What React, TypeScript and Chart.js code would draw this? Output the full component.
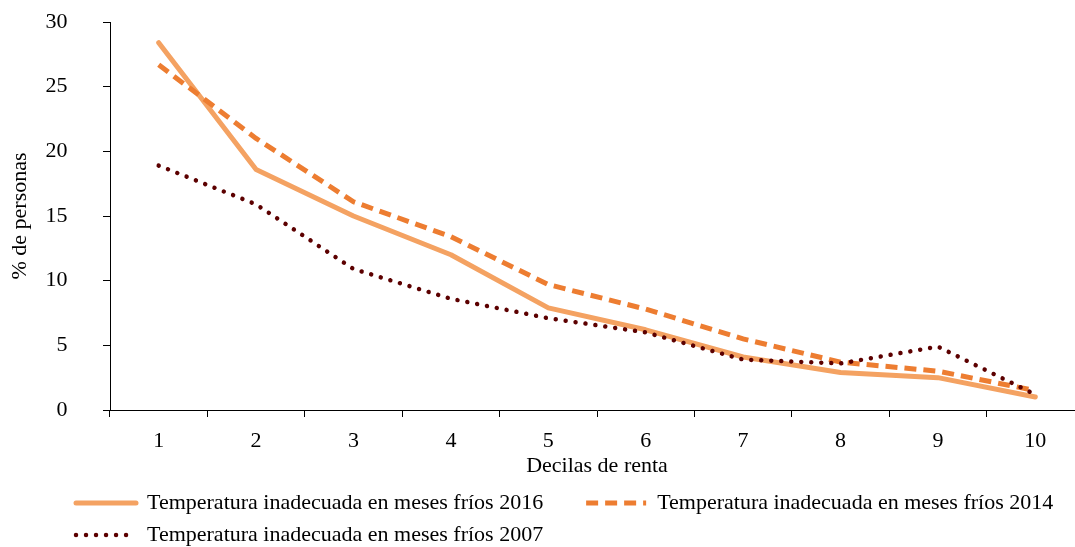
import React, { useEffect, useRef } from "react";
import { Chart, registerables } from "chart.js";

Chart.register(...registerables);

const categories = ["1", "2", "3", "4", "5", "6", "7", "8", "9", "10"];
const serie2016 = [28.4, 18.6, 15.0, 12.0, 7.9, 6.2, 4.1, 2.9, 2.5, 1.0];
const serie2014 = [26.7, 21.0, 16.1, 13.4, 9.7, 7.8, 5.5, 3.7, 3.0, 1.5];
const serie2007 = [18.9, 15.9, 10.9, 8.6, 7.1, 6.0, 3.9, 3.6, 4.9, 1.2];
const seriesLabels = [
  "Temperatura inadecuada en meses fríos 2016",
  "Temperatura inadecuada en meses fríos 2014",
  "Temperatura inadecuada en meses fríos 2007",
];
const yTitle = "% de personas";
const xTitle = "Decilas de renta";

const FONT = "'Liberation Serif', 'Times New Roman', serif";
const LEGEND_LEFT = 66;
const LEGEND_TOP = 482;

const legendPlacement = {
  id: "legendPlacement",
  afterLayout(chart: any) {
    const lg = chart.legend;
    if (!lg) return;
    lg.left = LEGEND_LEFT;
    lg.right = 1400;
    lg.top = LEGEND_TOP;
    lg.bottom = LEGEND_TOP + lg.height;
  },
};

export default function App() {
  const ref = useRef<HTMLCanvasElement | null>(null);

  useEffect(() => {
    if (!ref.current) return;
    const chart = new Chart(ref.current, {
      type: "line",
      data: {
        labels: categories,
        datasets: [
          {
            label: seriesLabels[0],
            data: serie2016,
            borderColor: "#F4A262",
            backgroundColor: "#F4A262",
            borderWidth: 5,
            borderCapStyle: "round",
            borderJoinStyle: "round",
            pointRadius: 0,
            tension: 0,
            order: 3,
          },
          {
            label: seriesLabels[1],
            data: serie2014,
            borderColor: "#ED7D31",
            backgroundColor: "#ED7D31",
            borderWidth: 5,
            borderDash: [12, 7],
            borderCapStyle: "butt",
            pointRadius: 0,
            tension: 0,
            order: 2,
          },
          {
            label: seriesLabels[2],
            data: serie2007,
            borderColor: "#5C0000",
            backgroundColor: "#5C0000",
            borderWidth: 4.5,
            borderDash: [0.01, 10],
            borderCapStyle: "round",
            pointRadius: 0,
            tension: 0,
            order: 1,
          },
        ],
      },
      options: {
        animation: false,
        responsive: true,
        maintainAspectRatio: false,
        layout: { padding: { left: 0, top: 22, right: 6, bottom: -6.4 } },
        plugins: {
          tooltip: { enabled: false },
          legend: {
            position: "bottom",
            align: "start",
            labels: {
              usePointStyle: true,
              pointStyleWidth: 60,
              padding: 10,
              color: "#000",
              font: { family: FONT, size: 22 },
              generateLabels: (c: any) =>
                c.data.datasets.map((ds: any, i: number) => ({
                  text: ds.label + "      ",
                  fillStyle: ds.borderColor,
                  strokeStyle: ds.borderColor,
                  lineWidth: ds.borderWidth,
                  lineDash: ds.borderDash || [],
                  lineCap: ds.borderCapStyle,
                  pointStyle: "line",
                  hidden: false,
                  datasetIndex: i,
                  fontColor: "#000",
                })),
            },
          },
        },
        scales: {
          x: {
            type: "category",
            offset: true,
            grid: {
              offset: true,
              drawOnChartArea: false,
              drawTicks: true,
              tickLength: 7,
              color: "#000",
            },
            border: { display: true, color: "#000", width: 1 },
            ticks: { color: "#000", padding: 10.8, font: { family: FONT, size: 22 }, maxRotation: 0 },
            title: {
              display: true,
              text: xTitle,
              color: "#000",
              font: { family: FONT, size: 22 },
              padding: { top: -12, bottom: 0 },
            },
          },
          y: {
            min: 0,
            max: 30,
            ticks: {
              stepSize: 5,
              color: "#000",
              padding: 8,
              font: { family: FONT, size: 22 },
              callback: (v: any) => String(v) + "     ",
            },
            grid: { drawOnChartArea: false, drawTicks: true, tickLength: 7, color: "#000" },
            border: { display: true, color: "#000", width: 1 },
            title: {
              display: true,
              text: yTitle,
              color: "#000",
              font: { family: FONT, size: 22 },
              padding: { top: 6.8, bottom: 4.3 },
            },
          },
        },
      },
      plugins: [legendPlacement],
    });
    return () => chart.destroy();
  }, []);

  return (
    <div style={{ position: "absolute", left: 0, top: 0, width: 1075, height: 547, overflow: "hidden", background: "#fff" }}>
      <div style={{ position: "relative", width: 1090, height: 547 }}>
        <canvas ref={ref} />
      </div>
    </div>
  );
}
